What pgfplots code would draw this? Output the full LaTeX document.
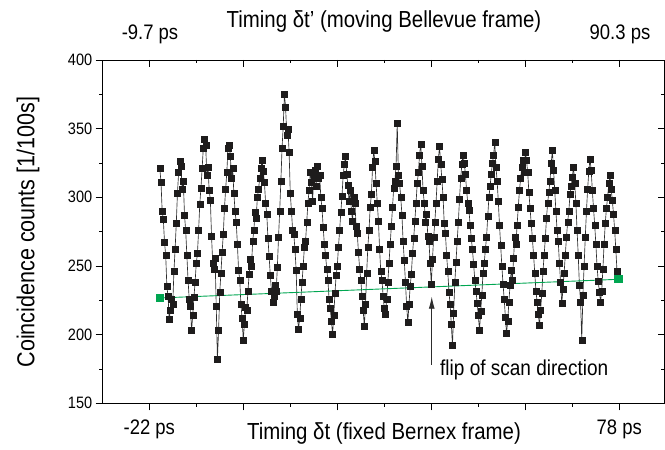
\documentclass[border=0pt]{standalone}
\usepackage{pgfplots}
\pgfplotsset{compat=1.18}
\usetikzlibrary{arrows.meta}
\usepackage{fontspec}
\setmainfont{Liberation Sans}[FakeStretch=0.88]
\definecolor{mk}{RGB}{30,28,28}
\definecolor{ln}{RGB}{45,45,45}
\definecolor{grn}{RGB}{0,166,81}
\begin{document}
\begin{tikzpicture}[x=1pt,y=1pt]
\begin{axis}[
  at={(102.7pt,46.7pt)}, anchor=south west,
  scale only axis, width=561.8pt, height=343.3pt,
  xmin=-31.9, xmax=87.6, ymin=150, ymax=400,
  xtick={-22,-2,18,38,58,78}, xticklabels={},
  minor xtick={-12,8,28,48,68},
  ytick={150,200,...,400}, minor ytick={175,225,275,325,375},
  xtick pos=bottom, ytick pos=left, tick align=outside,
  major tick length=7pt, minor tick length=3.5pt,
  tick style={black, line width=0.7pt},
  axis line style={line width=0.8pt},
  y tick label style={font=\fontsize{16.5}{16.5}\selectfont},
  /pgf/number format/assume math mode=true,
  clip=false,
]
\addplot[ln, line width=0.65pt, mark=square*, mark size=3pt, mark options={draw=mk, fill=mk, line width=0.3pt}] coordinates {
(-19.75,321) (-19.5,311) (-19.25,290) (-19,284) (-18.75,267) (-18.5,258) (-18.25,235) (-18,228)
(-17.75,211) (-17.5,218) (-17.25,226) (-17,222) (-16.75,246) (-16.5,262) (-16.25,281) (-16,303)
(-15.75,318) (-15.5,326) (-15.25,323) (-15,306) (-14.75,312) (-14.5,287) (-14.25,276) (-14,258)
(-13.75,240) (-13.5,226) (-13.25,221) (-13,203) (-12.75,214) (-12.5,227) (-12.25,238) (-12,252)
(-11.75,259) (-11.5,276) (-11.25,295) (-11,307) (-10.75,321) (-10.5,336) (-10.25,342) (-10,338)
(-9.75,316) (-9.5,322) (-9.25,305) (-9,298) (-8.75,272) (-8.5,252) (-8.25,248) (-8,256)
(-7.75,221) (-7.5,182) (-7.25,203) (-7,231) (-6.75,245) (-6.5,260) (-6.25,273) (-6,292)
(-5.75,306) (-5.5,318) (-5.25,336) (-5,338) (-4.75,330) (-4.5,314) (-4.25,321) (-4,303)
(-3.75,290) (-3.5,282) (-3.25,266) (-3,247) (-2.75,240) (-2.5,222) (-2.25,212) (-2,196)
(-1.75,208) (-1.5,220) (-1.25,218) (-1,232) (-0.75,244) (-0.5,255) (-0.25,250) (0,268)
(0.25,276) (0.5,289) (0.75,285) (1,300) (1.25,306) (1.5,314) (1.75,321) (2,327)
(2.25,319) (2.5,311) (2.75,296) (3,288) (3.25,270) (3.5,257) (3.75,243) (4,232)
(4.25,224) (4.5,228) (4.75,236) (5,232) (5.25,249) (5.5,271) (5.75,290) (6,312)
(6.25,336) (6.5,352) (6.75,375) (7,366) (7.25,345) (7.5,350) (7.75,333) (8,303)
(8.25,290) (8.5,276) (8.75,273) (9,262) (9.25,247) (9.5,215) (9.75,204) (10,212)
(10.25,226) (10.5,238) (10.75,250) (11,264) (11.25,268) (11.5,282) (11.75,296) (12,305)
(12.25,318) (12.5,311) (12.75,297) (13,316) (13.25,320) (13.5,308) (13.75,323) (14,314)
(14.25,316) (14.5,300) (14.75,292) (15,278) (15.25,266) (15.5,258) (15.75,248) (16,240)
(16.25,226) (16.5,219) (16.75,210) (17,200) (17.25,214) (17.5,230) (17.75,243) (18,250)
(18.25,264) (18.5,276) (18.75,289) (19,301) (19.25,316) (19.5,324) (19.75,330) (20,317)
(20.25,309) (20.5,297) (20.75,305) (21,290) (21.25,283) (21.5,300) (21.75,296) (22,279)
(22.25,274) (22.5,260) (22.75,248) (23,240) (23.25,228) (23.5,218) (23.75,206) (24,222)
(24.25,245) (24.5,264) (24.75,276) (25,293) (25.25,302) (25.5,322) (25.75,334) (26,326)
(26.25,310) (26.5,296) (26.75,283) (27,262) (27.25,246) (27.5,240) (27.75,228) (28,219)
(28.25,215) (28.5,226) (28.75,238) (29,252) (29.25,266) (29.5,279) (29.75,293) (30,307)
(30.25,312) (30.5,323) (30.75,354) (31,316) (31.25,310) (31.5,300) (31.75,287) (32,268)
(32.25,254) (32.5,238) (32.75,221) (33,209) (33.25,222) (33.5,235) (33.75,244) (34,259)
(34.25,270) (34.5,283) (34.75,296) (35,310) (35.25,318) (35.5,331) (35.75,339) (36,323)
(36.25,305) (36.5,296) (36.75,282) (37,288) (37.25,272) (37.5,268) (37.75,252) (38,237)
(38.25,255) (38.5,271) (38.75,282) (39,296) (39.25,312) (39.5,328) (39.75,337) (40,324)
(40.25,313) (40.5,300) (40.75,281) (41,274) (41.25,258) (41.5,246) (41.75,231) (42,222)
(42.25,208) (42.5,192) (42.75,216) (43,238) (43.25,253) (43.5,268) (43.75,282) (44,299)
(44.25,314) (44.5,324) (44.75,331) (45,325) (45.25,317) (45.5,305) (45.75,296) (46,291)
(46.25,280) (46.5,270) (46.75,262) (47,251) (47.25,240) (47.5,232) (47.75,223) (48,214)
(48.25,203) (48.5,217) (48.75,229) (49,245) (49.25,252) (49.5,262) (49.75,271) (50,286)
(50.25,300) (50.5,308) (50.75,317) (51,325) (51.25,331) (51.5,340) (51.75,322) (52,312)
(52.25,297) (52.5,280) (52.75,265) (53,250) (53.25,237) (53.5,226) (53.75,213) (54,201)
(54.25,210) (54.5,224) (54.75,236) (55,247) (55.25,240) (55.5,256) (55.75,271) (56,266)
(56.25,280) (56.5,293) (56.75,305) (57,314) (57.25,322) (57.5,327) (57.75,318) (58,333)
(58.25,327) (58.5,318) (58.75,304) (59,292) (59.25,281) (59.5,270) (59.75,258) (60,245)
(60.25,232) (60.5,224) (60.75,215) (61,207) (61.25,218) (61.5,230) (61.75,246) (62,258)
(62.25,270) (62.5,285) (62.75,296) (63,304) (63.25,312) (63.5,325) (63.75,334) (64,320)
(64.25,305) (64.5,290) (64.75,276) (65,268) (65.25,252) (65.5,238) (65.75,223) (66,233)
(66.25,245) (66.5,258) (66.75,271) (67,282) (67.25,290) (67.5,302) (67.75,308) (68,315)
(68.25,322) (68.5,310) (68.75,296) (69,276) (69.25,258) (69.5,236) (69.75,224) (70,196)
(70.25,229) (70.5,250) (70.75,271) (71,290) (71.25,306) (71.5,319) (71.75,328) (72,320)
(72.25,305) (72.5,292) (72.75,280) (73,266) (73.25,250) (73.5,239) (73.75,231) (74,224)
(74.25,232) (74.5,248) (74.75,266) (75,281) (75.25,292) (75.5,300) (75.75,310) (76,316)
(76.25,306) (76.5,298) (76.75,288) (77,276) (77.25,262) (77.5,246)
};
\addplot[grn, line width=0.9pt, mark=square*, mark size=3.6pt, mark options={draw=grn, fill=grn}] coordinates {(-19.72,226.7) (77.79,240.3)};
\draw[-{Latex[length=12pt,width=6pt]}, ln, line width=0.8pt] (axis cs:38.09,177.9) -- (axis cs:38.09,227.6);
\node[anchor=base west, font=\fontsize{21.6}{22}\selectfont, inner sep=0pt] at (axis cs:39.85,169.9) {flip of scan direction};
\end{axis}
\begin{axis}[
  at={(102.7pt,46.7pt)}, anchor=south west,
  scale only axis, width=561.8pt, height=343.3pt,
  xmin=-31.9, xmax=87.6, ymin=150, ymax=400,
  xtick={-22,-2,18,38,58,78}, xticklabels={},
  minor xtick={-12,8,28,48,68},
  ytick={150,200,...,400}, yticklabels={}, minor ytick={175,225,275,325,375},
  xtick pos=top, ytick pos=right, tick align=inside,
  major tick length=7pt, minor tick length=3.5pt,
  tick style={black, line width=0.7pt},
  axis line style={line width=0.8pt},
]
\end{axis}
\node[anchor=base, font=\fontsize{21}{21}\selectfont, inner sep=0pt] at (149.3,15) {-22 ps};
\node[anchor=base, font=\fontsize{21}{21}\selectfont, inner sep=0pt] at (619.3,15) {78 ps};
\node[anchor=base, font=\fontsize{23.2}{23.2}\selectfont, inner sep=0pt] at (384,10) {Timing δt (fixed Bernex frame)};
\node[anchor=base, font=\fontsize{21}{21}\selectfont, inner sep=0pt] at (150,410) {-9.7 ps};
\node[anchor=base, font=\fontsize{21}{21}\selectfont, inner sep=0pt] at (620,410) {90.3 ps};
\node[anchor=base, font=\fontsize{23.2}{23.2}\selectfont, inner sep=0pt] at (384,422) {Timing δt' (moving Bellevue frame)};
\node[rotate=90, anchor=center, font=\fontsize{24.5}{24.5}\selectfont, inner sep=0pt] at (28,218) {Coincidence counts [1/100s]};
\pgfresetboundingbox
\path (0,0) rectangle (665,450);
\end{tikzpicture}
\end{document}
